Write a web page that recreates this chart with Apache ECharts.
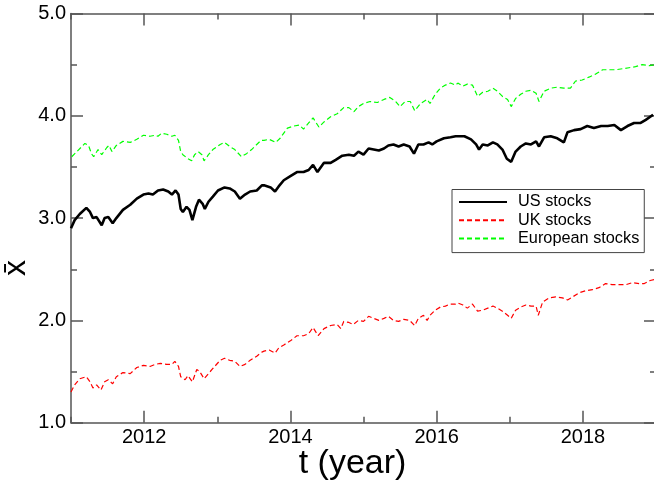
<!DOCTYPE html>
<html>
<head>
<meta charset="utf-8">
<script src="https://cdn.jsdelivr.net/npm/echarts@6/dist/echarts.min.js"></script>
<style>
html,body{margin:0;padding:0;background:#fff;}
#chart{width:654px;height:483px;}
</style>
</head>
<body>
<div id="chart"></div>
<script>
// ---- data ----
const usX = [2011.00,2011.05,2011.12,2011.21,2011.26,2011.30,2011.35,2011.42,2011.46,2011.51,2011.57,2011.62,2011.71,2011.81,2011.90,2011.99,2012.06,2012.12,2012.19,2012.26,2012.33,2012.38,2012.43,2012.47,2012.50,2012.53,2012.58,2012.62,2012.66,2012.71,2012.75,2012.80,2012.83,2012.88,2012.94,2013.01,2013.10,2013.17,2013.24,2013.31,2013.38,2013.45,2013.54,2013.61,
2013.64,2013.73,2013.79,2013.84,2013.91,2014.00,2014.09,2014.18,2014.25,2014.31,2014.37,2014.46,2014.55,2014.62,2014.71,2014.80,2014.87,2014.93,2015.00,2015.07,2015.14,2015.21,2015.28,2015.34,2015.41,2015.48,2015.55,2015.63,2015.69,2015.75,2015.82,2015.89,2015.94,2016.00,2016.10,2016.19,2016.26,
2016.29,2016.38,2016.47,2016.54,2016.58,2016.63,2016.70,2016.77,2016.83,2016.90,2016.96,2017.02,2017.08,2017.15,2017.22,2017.29,2017.36,2017.40,2017.47,2017.56,2017.65,2017.74,2017.79,2017.88,2017.97,2018.06,2018.15,2018.25,2018.34,2018.43,2018.52,2018.61,2018.70,2018.79,2018.86,2018.96];
const usY = [2.90,2.98,3.04,3.10,3.06,3.00,3.01,2.93,3.00,3.01,2.95,3.00,3.08,3.13,3.19,3.23,3.24,3.23,3.27,3.28,3.26,3.23,3.27,3.23,3.09,3.06,3.11,3.08,2.98,3.11,3.18,3.14,3.09,3.16,3.21,3.27,3.30,3.29,3.26,3.19,3.23,3.26,3.27,3.32,
3.32,3.30,3.26,3.31,3.37,3.41,3.45,3.45,3.47,3.52,3.45,3.54,3.54,3.57,3.61,3.62,3.61,3.65,3.62,3.68,3.67,3.66,3.68,3.71,3.72,3.70,3.72,3.70,3.63,3.72,3.72,3.74,3.72,3.75,3.78,3.79,3.80,
3.80,3.80,3.77,3.72,3.67,3.72,3.71,3.74,3.72,3.67,3.58,3.55,3.65,3.70,3.73,3.72,3.75,3.70,3.79,3.80,3.78,3.74,3.84,3.86,3.87,3.90,3.88,3.90,3.90,3.91,3.86,3.90,3.93,3.93,3.96,4.01];

const ukX = [2011.00,2011.05,2011.12,2011.21,2011.26,2011.30,2011.35,2011.41,2011.46,2011.51,2011.57,2011.62,2011.71,2011.81,2011.90,2011.99,2012.08,2012.15,2012.22,2012.31,2012.38,2012.42,2012.47,2012.50,2012.56,2012.60,2012.66,2012.72,2012.76,2012.82,2012.88,2012.94,2013.04,2013.10,2013.17,2013.24,2013.31,2013.38,2013.45,2013.54,2013.61,
2013.64,2013.71,2013.79,2013.84,2013.91,2014.00,2014.09,2014.18,2014.25,2014.31,2014.38,2014.46,2014.55,2014.64,2014.69,2014.73,2014.80,2014.86,2014.93,2015.00,2015.07,2015.14,2015.21,2015.28,2015.34,2015.41,2015.48,2015.55,2015.63,2015.70,2015.75,2015.82,2015.87,2015.91,2015.98,2016.05,2016.12,2016.19,2016.26,
2016.29,2016.36,2016.42,2016.49,2016.56,2016.63,2016.70,2016.77,2016.83,2016.90,2016.97,2017.02,2017.08,2017.15,2017.22,2017.29,2017.36,2017.39,2017.45,2017.54,2017.63,2017.72,2017.79,2017.86,2017.95,2018.04,2018.13,2018.22,2018.31,2018.40,2018.50,2018.59,2018.68,2018.77,2018.84,2018.92,2018.99];
const ukY = [1.30,1.37,1.43,1.45,1.40,1.34,1.37,1.32,1.40,1.42,1.38,1.45,1.49,1.48,1.54,1.56,1.55,1.57,1.58,1.57,1.57,1.60,1.55,1.45,1.42,1.46,1.40,1.52,1.50,1.43,1.48,1.53,1.61,1.63,1.61,1.60,1.55,1.57,1.61,1.65,1.69,
1.70,1.71,1.68,1.73,1.76,1.80,1.85,1.85,1.87,1.93,1.85,1.92,1.95,1.96,1.92,1.99,1.98,1.96,2.00,1.99,2.04,2.02,2.00,2.02,2.04,2.00,1.99,2.01,2.00,1.95,2.02,2.05,2.00,2.05,2.10,2.13,2.14,2.16,2.16,
2.17,2.15,2.12,2.16,2.09,2.10,2.12,2.14,2.12,2.09,2.05,2.02,2.10,2.13,2.15,2.14,2.14,2.05,2.18,2.22,2.23,2.22,2.20,2.23,2.27,2.29,2.30,2.32,2.36,2.35,2.35,2.35,2.37,2.36,2.36,2.39,2.40];

const euX = [2011.01,2011.08,2011.19,2011.24,2011.28,2011.31,2011.37,2011.42,2011.49,2011.52,2011.56,2011.62,2011.71,2011.81,2011.90,2011.99,2012.08,2012.15,2012.19,2012.24,2012.31,2012.38,2012.42,2012.47,2012.50,2012.53,2012.60,2012.65,2012.69,2012.74,2012.79,2012.82,2012.88,2012.94,2013.04,2013.10,2013.17,2013.24,2013.33,2013.40,2013.47,2013.54,2013.60,
2013.64,2013.71,2013.80,2013.86,2013.96,2014.05,2014.12,2014.18,2014.25,2014.31,2014.39,2014.46,2014.55,2014.64,2014.73,2014.80,2014.87,2014.93,2015.00,2015.09,2015.19,2015.28,2015.36,2015.44,2015.50,2015.57,2015.64,2015.70,2015.78,2015.87,2015.91,2015.98,2016.05,2016.12,2016.19,2016.26,
2016.29,2016.36,2016.42,2016.49,2016.56,2016.63,2016.70,2016.77,2016.83,2016.90,2016.97,2017.02,2017.08,2017.15,2017.22,2017.29,2017.36,2017.40,2017.47,2017.56,2017.65,2017.74,2017.83,2017.90,2017.99,2018.09,2018.18,2018.27,2018.36,2018.45,2018.54,2018.63,2018.72,2018.81,2018.91,2018.99];
const euY = [3.60,3.65,3.73,3.71,3.63,3.60,3.67,3.62,3.69,3.71,3.65,3.71,3.75,3.74,3.77,3.81,3.80,3.81,3.80,3.83,3.82,3.80,3.81,3.76,3.65,3.62,3.58,3.56,3.62,3.65,3.62,3.56,3.62,3.67,3.72,3.74,3.70,3.67,3.60,3.63,3.67,3.72,3.76,
3.76,3.77,3.74,3.78,3.88,3.90,3.91,3.87,3.93,3.98,3.89,3.94,3.99,4.02,4.08,4.08,4.04,4.09,4.12,4.14,4.13,4.16,4.18,4.14,4.09,4.14,4.14,4.05,4.12,4.16,4.12,4.21,4.27,4.30,4.32,4.30,
4.32,4.29,4.31,4.30,4.19,4.23,4.24,4.27,4.24,4.19,4.16,4.09,4.17,4.21,4.24,4.25,4.22,4.14,4.24,4.27,4.28,4.27,4.27,4.34,4.35,4.38,4.41,4.45,4.45,4.45,4.46,4.47,4.48,4.50,4.49,4.50];

const seriesNames = ['US stocks', 'UK stocks', 'European stocks'];
const majorYearTicks = [2012, 2014, 2016, 2018];
const yTickValues = [1, 2, 3, 4, 5];

// ---- chart ----
const pairs = (xs, ys) => xs.map((x, i) => [x, ys[i]]);
const FONT = '"Liberation Sans", Arial, Helvetica, sans-serif';
const AX = '#555';
const gridRect = {left: 71, top: 13.5, width: 585, height: 409.2};

const chart = echarts.init(document.getElementById('chart'), null, {renderer: 'canvas'});
chart.setOption({
  animation: false,
  backgroundColor: '#fff',
  textStyle: {fontFamily: FONT},
  grid: [
    Object.assign({containLabel: false, outerBoundsMode: 'none'}, gridRect),
    Object.assign({containLabel: false, outerBoundsMode: 'none'}, gridRect)
  ],
  xAxis: [
    {gridIndex: 0, type: 'value', position: 'bottom', min: 2011, max: 2019, interval: 1,
     axisLine: {show: true, onZero: false, lineStyle: {color: AX, width: 1.5}},
     axisTick: {show: true, inside: true, length: 6, lineStyle: {color: AX, width: 1.5}},
     axisLabel: {show: true, color: '#000', fontSize: 20, fontFamily: FONT, margin: 5,
       formatter: v => (majorYearTicks.indexOf(v) >= 0 ? String(v) : '')},
     splitLine: {show: false},
     name: 't (year)', nameLocation: 'middle', nameGap: 24, nameMoveOverlap: false,
     nameTextStyle: {color: '#000', fontSize: 34, fontFamily: FONT, padding: [0, 22, 0, 0]}},
    {gridIndex: 0, type: 'value', position: 'top', min: 2011, max: 2019, interval: 1,
     axisLine: {show: true, onZero: false, lineStyle: {color: AX, width: 1.5}},
     axisTick: {show: true, inside: true, length: 6, lineStyle: {color: AX, width: 1.5}},
     axisLabel: {show: false}, splitLine: {show: false}},
    {gridIndex: 1, type: 'value', position: 'bottom', min: 2011, max: 2019, interval: 1,
     axisLine: {show: false, onZero: false},
     axisTick: {show: true, inside: true, length: 12, customValues: majorYearTicks, lineStyle: {color: AX, width: 1.5}},
     axisLabel: {show: false}, splitLine: {show: false}},
    {gridIndex: 1, type: 'value', position: 'top', min: 2011, max: 2019, interval: 1,
     axisLine: {show: false, onZero: false},
     axisTick: {show: true, inside: true, length: 12, customValues: majorYearTicks, lineStyle: {color: AX, width: 1.5}},
     axisLabel: {show: false}, splitLine: {show: false}}
  ],
  yAxis: [
    {gridIndex: 0, type: 'value', position: 'left', min: 1, max: 5, interval: 1,
     axisLine: {show: true, onZero: false, lineStyle: {color: AX, width: 1.5}},
     axisTick: {show: true, inside: true, length: 12, lineStyle: {color: AX, width: 1.5}},
     minorTick: {show: true, splitNumber: 2, length: 6, lineStyle: {color: AX, width: 1.5}},
     axisLabel: {show: true, color: '#000', fontSize: 20, fontFamily: FONT, margin: 5,
       formatter: v => (yTickValues.indexOf(v) >= 0 ? v.toFixed(1) : '')},
     splitLine: {show: false}},
    {gridIndex: 0, type: 'value', position: 'right', min: 1, max: 5, interval: 1,
     axisLine: {show: false, onZero: false},
     axisTick: {show: true, inside: true, length: 12, lineStyle: {color: AX, width: 1.5}},
     minorTick: {show: true, splitNumber: 2, length: 6, lineStyle: {color: AX, width: 1.5}},
     axisLabel: {show: false}, splitLine: {show: false}},
    {gridIndex: 1, type: 'value', min: 1, max: 5, show: false}
  ],
  legend: {
    orient: 'vertical', left: 452, top: 189.5,
    data: seriesNames,
    itemWidth: 48, itemHeight: 18, itemGap: 0.3,
    padding: [3.5, 5, 5, 6],
    borderColor: '#444', borderWidth: 1, backgroundColor: '#fff',
    itemStyle: {opacity: 0},
    textStyle: {color: '#000', fontSize: 16.3, fontFamily: FONT, lineHeight: 18, padding: [0, 0, 0, 6]},
    selectedMode: false
  },
  graphic: [{
    type: 'text', left: 0, top: 260, rotation: Math.PI / 2,
    style: {text: 'x\u0304', fill: '#000', font: '32px ' + FONT}
  }],
  series: [
    {name: seriesNames[0], type: 'line', xAxisIndex: 0, yAxisIndex: 0, symbol: 'none',
     data: pairs(usX, usY), lineStyle: {color: '#000', width: 2.6}, itemStyle: {color: '#000'}, z: 3},
    {name: seriesNames[1], type: 'line', xAxisIndex: 0, yAxisIndex: 0, symbol: 'none',
     data: pairs(ukX, ukY), lineStyle: {color: '#ff0000', width: 1.2, type: [5, 3]}, itemStyle: {color: '#ff0000'}, z: 2},
    {name: seriesNames[2], type: 'line', xAxisIndex: 0, yAxisIndex: 0, symbol: 'none',
     data: pairs(euX, euY), lineStyle: {color: '#00ff00', width: 1.2, type: [5, 3]}, itemStyle: {color: '#00ff00'}, z: 2}
  ]
});
</script>
</body>
</html>
